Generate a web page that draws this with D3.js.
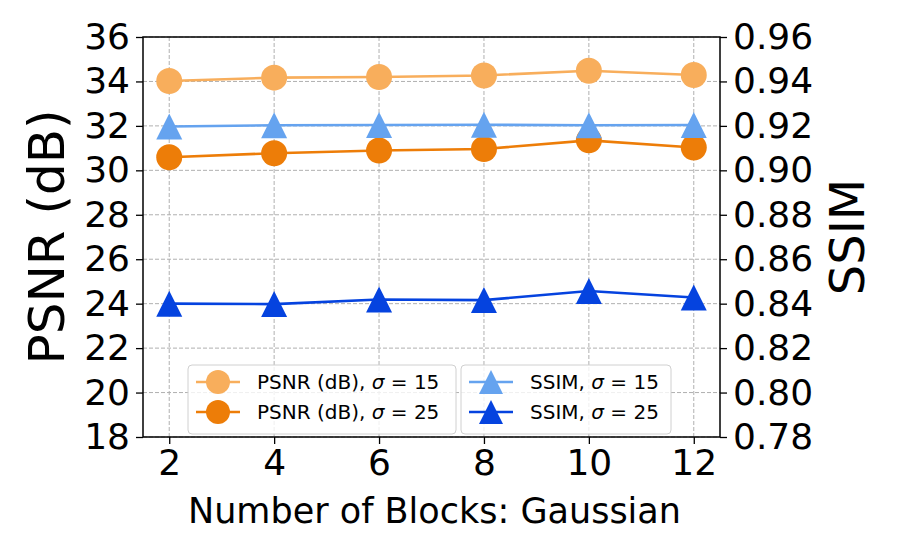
<!DOCTYPE html>
<html>
<head>
<meta charset="utf-8">
<script src="https://cdn.jsdelivr.net/npm/d3@7"></script>
<style>
  body { margin: 0; background: #fff; }
  svg { display: block; font-family: "DejaVu Sans", sans-serif; }
</style>
</head>
<body>
<div id="chart"></div>
<script>
// values
const blocks = [2, 4, 6, 8, 10, 12];
const psnr15 = [34.02, 34.17, 34.20, 34.27, 34.48, 34.29];
const psnr25 = [30.59, 30.77, 30.89, 30.96, 31.35, 31.03];
const ssim15 = [0.9197, 0.9203, 0.9204, 0.9205, 0.9203, 0.9204];
const ssim25 = [0.8400, 0.8398, 0.8419, 0.8416, 0.8457, 0.8428];
const psnrTicks = [18, 20, 22, 24, 26, 28, 30, 32, 34, 36];
const ssimTicks = [0.78, 0.80, 0.82, 0.84, 0.86, 0.88, 0.90, 0.92, 0.94, 0.96];

const W = 900, H = 555;
const plotL = 143, plotR = 720, plotT = 37, plotB = 437;

const svg = d3.select('#chart').append('svg')
    .attr('width', W).attr('height', H);

const x = d3.scaleLinear().domain([1.5, 12.5]).range([plotL, plotR]);
const yL = d3.scaleLinear().domain([18, 36]).range([plotB, plotT]);
const yR = d3.scaleLinear().domain([0.78, 0.96]).range([plotB, plotT]);

// grid
const grid = svg.append('g')
    .attr('stroke', '#b0b0b0').attr('stroke-width', 1).attr('stroke-dasharray', '4,2');
grid.selectAll('.gx').data(blocks).enter().append('line')
    .attr('x1', d => x(d)).attr('x2', d => x(d)).attr('y1', plotT).attr('y2', plotB);
grid.selectAll('.gy').data(psnrTicks).enter().append('line')
    .attr('x1', plotL).attr('x2', plotR).attr('y1', d => yL(d)).attr('y2', d => yL(d));

// axes
function styleAxis(g) {
    g.select('.domain').remove();
    g.selectAll('.tick line').attr('stroke', '#000').attr('stroke-width', 1.3);
    g.selectAll('.tick text').attr('font-size', 36).attr('fill', '#000')
        .attr('font-family', '"DejaVu Sans", sans-serif');
}
svg.append('g').attr('transform', `translate(0,${plotB})`)
    .call(d3.axisBottom(x).tickValues(blocks).tickSize(7).tickPadding(5))
    .call(styleAxis);
svg.append('g').attr('transform', `translate(${plotL},0)`)
    .call(d3.axisLeft(yL).tickValues(psnrTicks).tickSize(7).tickPadding(6))
    .call(styleAxis);
svg.append('g').attr('transform', `translate(${plotR},0)`)
    .call(d3.axisRight(yR).tickValues(ssimTicks).tickFormat(d3.format('.2f')).tickSize(7).tickPadding(6))
    .call(styleAxis);

svg.append('rect').attr('x', plotL).attr('y', plotT)
    .attr('width', plotR - plotL).attr('height', plotB - plotT)
    .attr('fill', 'none').attr('stroke', '#000').attr('stroke-width', 1.5);

// series
const ms = 26;
function trianglePath(s) {
    const h = s / 2;
    return `M0,${-h}L${h},${h}L${-h},${h}Z`;
}
const series = [
    { vals: psnr15, y: yL, color: '#f8ae5c', mark: 'circle' },
    { vals: psnr25, y: yL, color: '#ed7d08', mark: 'circle' },
    { vals: ssim15, y: yR, color: '#65a3ef', mark: 'tri' },
    { vals: ssim25, y: yR, color: '#0543df', mark: 'tri' }
];
const line = d3.line();
series.forEach(s => {
    const pts = blocks.map((b, i) => [x(b), s.y(s.vals[i])]);
    const g = svg.append('g');
    g.append('path').attr('d', line(pts)).attr('fill', 'none')
        .attr('stroke', s.color).attr('stroke-width', 2.6);
    pts.forEach(p => {
        if (s.mark === 'circle') {
            g.append('circle').attr('cx', p[0]).attr('cy', p[1]).attr('r', ms / 2)
                .attr('fill', s.color);
        } else {
            g.append('path').attr('d', trianglePath(ms))
                .attr('transform', `translate(${p[0]},${p[1]})`).attr('fill', s.color);
        }
    });
});

// legends
const legends = [
    { x0: 188, x1: 456, items: [
        { s: series[0], label: 'PSNR (dB), ', n: '15' },
        { s: series[1], label: 'PSNR (dB), ', n: '25' }] },
    { x0: 461, x1: 671, items: [
        { s: series[2], label: 'SSIM, ', n: '15' },
        { s: series[3], label: 'SSIM, ', n: '25' }] }
];
const rowY = [382, 412];
legends.forEach(L => {
    const g = svg.append('g');
    g.append('rect').attr('x', L.x0).attr('y', 365).attr('width', L.x1 - L.x0).attr('height', 69)
        .attr('rx', 4).attr('fill', 'rgba(255,255,255,0.8)').attr('stroke', '#d0d0d0').attr('stroke-width', 1);
    L.items.forEach((it, i) => {
        const cy = rowY[i];
        const hx = L.x0 + 8;
        g.append('line').attr('x1', hx).attr('x2', hx + 44).attr('y1', cy).attr('y2', cy)
            .attr('stroke', it.s.color).attr('stroke-width', 2.6);
        if (it.s.mark === 'circle') {
            g.append('circle').attr('cx', hx + 22).attr('cy', cy).attr('r', 12).attr('fill', it.s.color);
        } else {
            g.append('path').attr('d', trianglePath(24))
                .attr('transform', `translate(${hx + 22},${cy})`).attr('fill', it.s.color);
        }
        const t = g.append('text').attr('x', hx + 61).attr('y', cy + 7)
            .attr('font-size', 20).attr('fill', '#000');
        t.append('tspan').text(it.label);
        t.append('tspan').attr('font-style', 'italic').text('σ');
        t.append('tspan').text(' = ' + it.n);
    });
});

// axis labels
svg.append('text').attr('x', (plotL + plotR) / 2 + 3).attr('y', 523)
    .attr('text-anchor', 'middle').attr('font-size', 35).text('Number of Blocks: Gaussian');
svg.append('text').attr('transform', `translate(64,${(plotT + plotB) / 2}) rotate(-90)`)
    .attr('text-anchor', 'middle').attr('font-size', 50).text('PSNR (dB)');
svg.append('text').attr('transform', `translate(864,${(plotT + plotB) / 2}) rotate(-90)`)
    .attr('text-anchor', 'middle').attr('font-size', 48).text('SSIM');
</script>
</body>
</html>
